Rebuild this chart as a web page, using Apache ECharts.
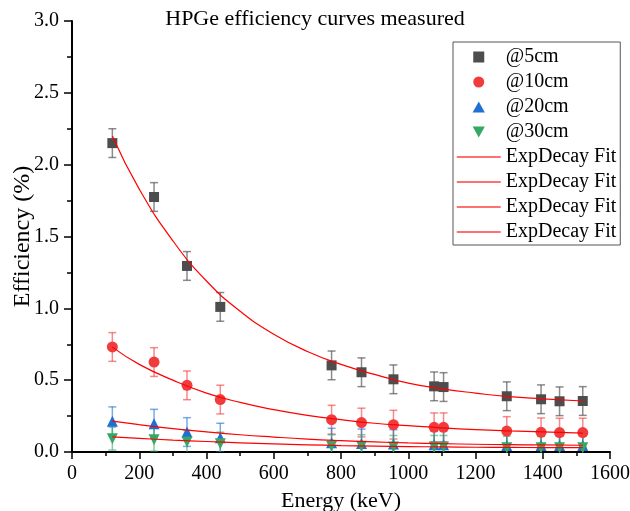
<!DOCTYPE html>
<html>
<head>
<meta charset="utf-8">
<script src="https://cdn.jsdelivr.net/npm/echarts@6/dist/echarts.min.js"></script>
<style>html,body{margin:0;padding:0;background:#fff}#c{width:630px;height:511px}</style>
</head>
<body>
<div id="c"></div>
<script>
// ---- data ----
const energy = [120, 244, 342, 441, 772, 861, 956, 1077, 1105, 1293, 1395, 1450, 1519];
const eff5  = [2.15, 1.775, 1.295, 1.01, 0.603, 0.555, 0.506, 0.457, 0.452, 0.388, 0.367, 0.353, 0.355];
const eff10 = [0.731, 0.626, 0.464, 0.365, 0.225, 0.205, 0.19, 0.172, 0.172, 0.146, 0.137, 0.135, 0.135];
const eff20 = [0.214, 0.197, 0.139, 0.10, 0.065, 0.06, 0.055, 0.05, 0.05, 0.045, 0.045, 0.045, 0.045];
const eff30 = [0.093, 0.086, 0.07, 0.058, 0.04, 0.04, 0.035, 0.035, 0.035, 0.03, 0.03, 0.03, 0.03];
const err5  = [0.1, 0.1, 0.1, 0.1, 0.1, 0.1, 0.1, 0.1, 0.1, 0.1, 0.1, 0.1, 0.1];
const err10 = [0.1, 0.1, 0.1, 0.1, 0.1, 0.1, 0.1, 0.1, 0.1, 0.1, 0.1, 0.1, 0.1];
const err20 = [0.1, 0.1, 0.1, 0.1, 0.1, 0.1, 0.1, 0.1, 0.1, 0.1, 0.1, 0.1, 0.1];
const err30 = [0.08, 0.08, 0.08, 0.08, 0.08, 0.08, 0.08, 0.08, 0.08, 0.08, 0.08, 0.08, 0.08];

const fitEnergy = [120, 200, 300, 400, 500, 600, 700, 800, 900, 1000, 1100, 1200, 1300, 1400, 1519];
const fit5  = [2.20, 1.83, 1.47, 1.19, 0.98, 0.82, 0.70, 0.61, 0.54, 0.48, 0.44, 0.41, 0.385, 0.37, 0.355];
const fit10 = [0.73, 0.61, 0.50, 0.41, 0.345, 0.295, 0.255, 0.225, 0.20, 0.183, 0.168, 0.156, 0.147, 0.140, 0.132];
const fit20 = [0.215, 0.19, 0.163, 0.14, 0.12, 0.104, 0.09, 0.079, 0.07, 0.063, 0.058, 0.054, 0.051, 0.049, 0.047];
const fit30 = [0.105, 0.095, 0.083, 0.073, 0.064, 0.056, 0.05, 0.045, 0.041, 0.038, 0.035, 0.033, 0.032, 0.031, 0.03];

const seriesNames = ['@5cm', '@10cm', '@20cm', '@30cm'];
const fitNames = ['fit5', 'fit10', 'fit20', 'fit30'];
const fitLabel = 'ExpDecay Fit';
const xTicks = { min: 0, max: 1600, interval: 200 };
const yTicks = { min: 0, max: 3, interval: 0.5 };

// ---- styling ----
const FONT = 'Liberation Serif';
const colors = ['#4d4d4d', '#f03c3c', '#1f6fd6', '#36a865'];
const barColors = ['rgba(77,77,77,0.65)', 'rgba(240,60,60,0.6)', 'rgba(31,111,214,0.6)', 'rgba(54,168,101,0.6)'];
const symbols = ['path://M0,0 L10,0 L10,10 L0,10 Z', 'circle', 'path://M5,0 L10,9 L0,9 Z', 'path://M0,0 L10,0 L5,9 Z'];
const symSizes = [10, 11, 11, 11];

const effs = [eff5, eff10, eff20, eff30];
const errs = [err5, err10, err20, err30];
const fits = [fit5, fit10, fit20, fit30];

function pairs(xs, ys) { return xs.map((x, i) => [x, ys[i]]); }

const series = [];
for (let s = 0; s < 4; s++) {
  const errData = energy.map((x, i) => [x, effs[s][i] - errs[s][i], effs[s][i] + errs[s][i]]);
  series.push({
    type: 'custom',
    name: seriesNames[s] + '_err',
    clip: true,
    silent: true,
    data: errData,
    z: 2,
    renderItem: (params, api) => {
      const x = api.value(0);
      const lo = api.coord([x, api.value(1)]);
      const hi = api.coord([x, api.value(2)]);
      const hw = 4;
      const st = { stroke: barColors[s], lineWidth: 1.5, fill: null };
      return {
        type: 'group',
        children: [
          { type: 'line', shape: { x1: lo[0], y1: lo[1], x2: hi[0], y2: hi[1] }, style: st },
          { type: 'line', shape: { x1: lo[0] - hw, y1: lo[1], x2: lo[0] + hw, y2: lo[1] }, style: st },
          { type: 'line', shape: { x1: hi[0] - hw, y1: hi[1], x2: hi[0] + hw, y2: hi[1] }, style: st }
        ]
      };
    }
  });
  series.push({
    type: 'scatter',
    name: seriesNames[s],
    data: pairs(energy, effs[s]),
    symbol: symbols[s],
    symbolSize: symSizes[s],
    itemStyle: { color: colors[s], opacity: 1 },
    z: 3
  });
}
for (let s = 0; s < 4; s++) {
  series.push({
    type: 'line',
    name: fitNames[s],
    data: pairs(fitEnergy, fits[s]),
    smooth: true,
    symbol: 'none',
    lineStyle: { color: '#ff0000', width: 1.2 },
    itemStyle: { color: '#ff0000' },
    z: 4
  });
}

const legendData = seriesNames.map((n, i) => ({ name: n, icon: symbols[i] }))
  .concat(fitNames.map(n => ({ name: n, itemStyle: { opacity: 0 }, lineStyle: { color: '#ff4040', width: 1.5 } })));

const chart = echarts.init(document.getElementById('c'), null, { renderer: 'canvas' });
chart.setOption({
  animation: false,
  textStyle: { fontFamily: FONT },
  title: {
    text: 'HPGe efficiency curves measured',
    left: 'center',
    top: 8,
    padding: 0,
    textStyle: { fontFamily: FONT, fontSize: 22, fontWeight: 'normal', color: '#000' }
  },
  legend: {
    orient: 'vertical',
    left: 453,
    top: 42,
    padding: [5, 4, 3, 3],
    borderColor: '#555',
    borderWidth: 1,
    itemWidth: 44,
    itemHeight: 11,
    itemGap: 5,
    symbolKeepAspect: true,
    textStyle: { fontFamily: FONT, fontSize: 20, lineHeight: 20, color: '#000' },
    data: legendData,
    formatter: n => (n.indexOf('fit') === 0 ? fitLabel : n)
  },
  grid: { left: 72, right: 20, top: 21, bottom: 59, containLabel: false, outerBoundsMode: 'none' },
  xAxis: {
    type: 'value',
    min: xTicks.min, max: xTicks.max, interval: xTicks.interval,
    name: 'Energy (keV)',
    nameLocation: 'middle',
    nameGap: 38,
    nameMoveOverlap: false,
    nameTextStyle: { fontFamily: FONT, fontSize: 22, color: '#000' },
    axisLine: { onZero: false, lineStyle: { color: '#000', width: 2 } },
    axisTick: { show: true, inside: false, length: 7, lineStyle: { color: '#000', width: 1.5 } },
    minorTick: { show: true, splitNumber: 2, length: 4, lineStyle: { color: '#000', width: 1.5 } },
    axisLabel: { fontFamily: FONT, fontSize: 20, color: '#000', margin: 12, formatter: v => String(v) },
    splitLine: { show: false },
    minorSplitLine: { show: false }
  },
  yAxis: {
    type: 'value',
    min: yTicks.min, max: yTicks.max, interval: yTicks.interval,
    name: 'Efficiency (%)',
    nameLocation: 'middle',
    nameGap: 37,
    nameMoveOverlap: false,
    nameTextStyle: { fontFamily: FONT, fontSize: 24, color: '#000' },
    axisLine: { show: true, onZero: false, lineStyle: { color: '#000', width: 2 } },
    axisTick: { show: true, inside: false, length: 8, lineStyle: { color: '#000', width: 1.5 } },
    minorTick: { show: true, splitNumber: 2, length: 5, lineStyle: { color: '#000', width: 1.5 } },
    axisLabel: { fontFamily: FONT, fontSize: 20, color: '#000', margin: 13, formatter: v => v.toFixed(1) },
    splitLine: { show: false },
    minorSplitLine: { show: false }
  },
  series: series
});
</script>
</body>
</html>
